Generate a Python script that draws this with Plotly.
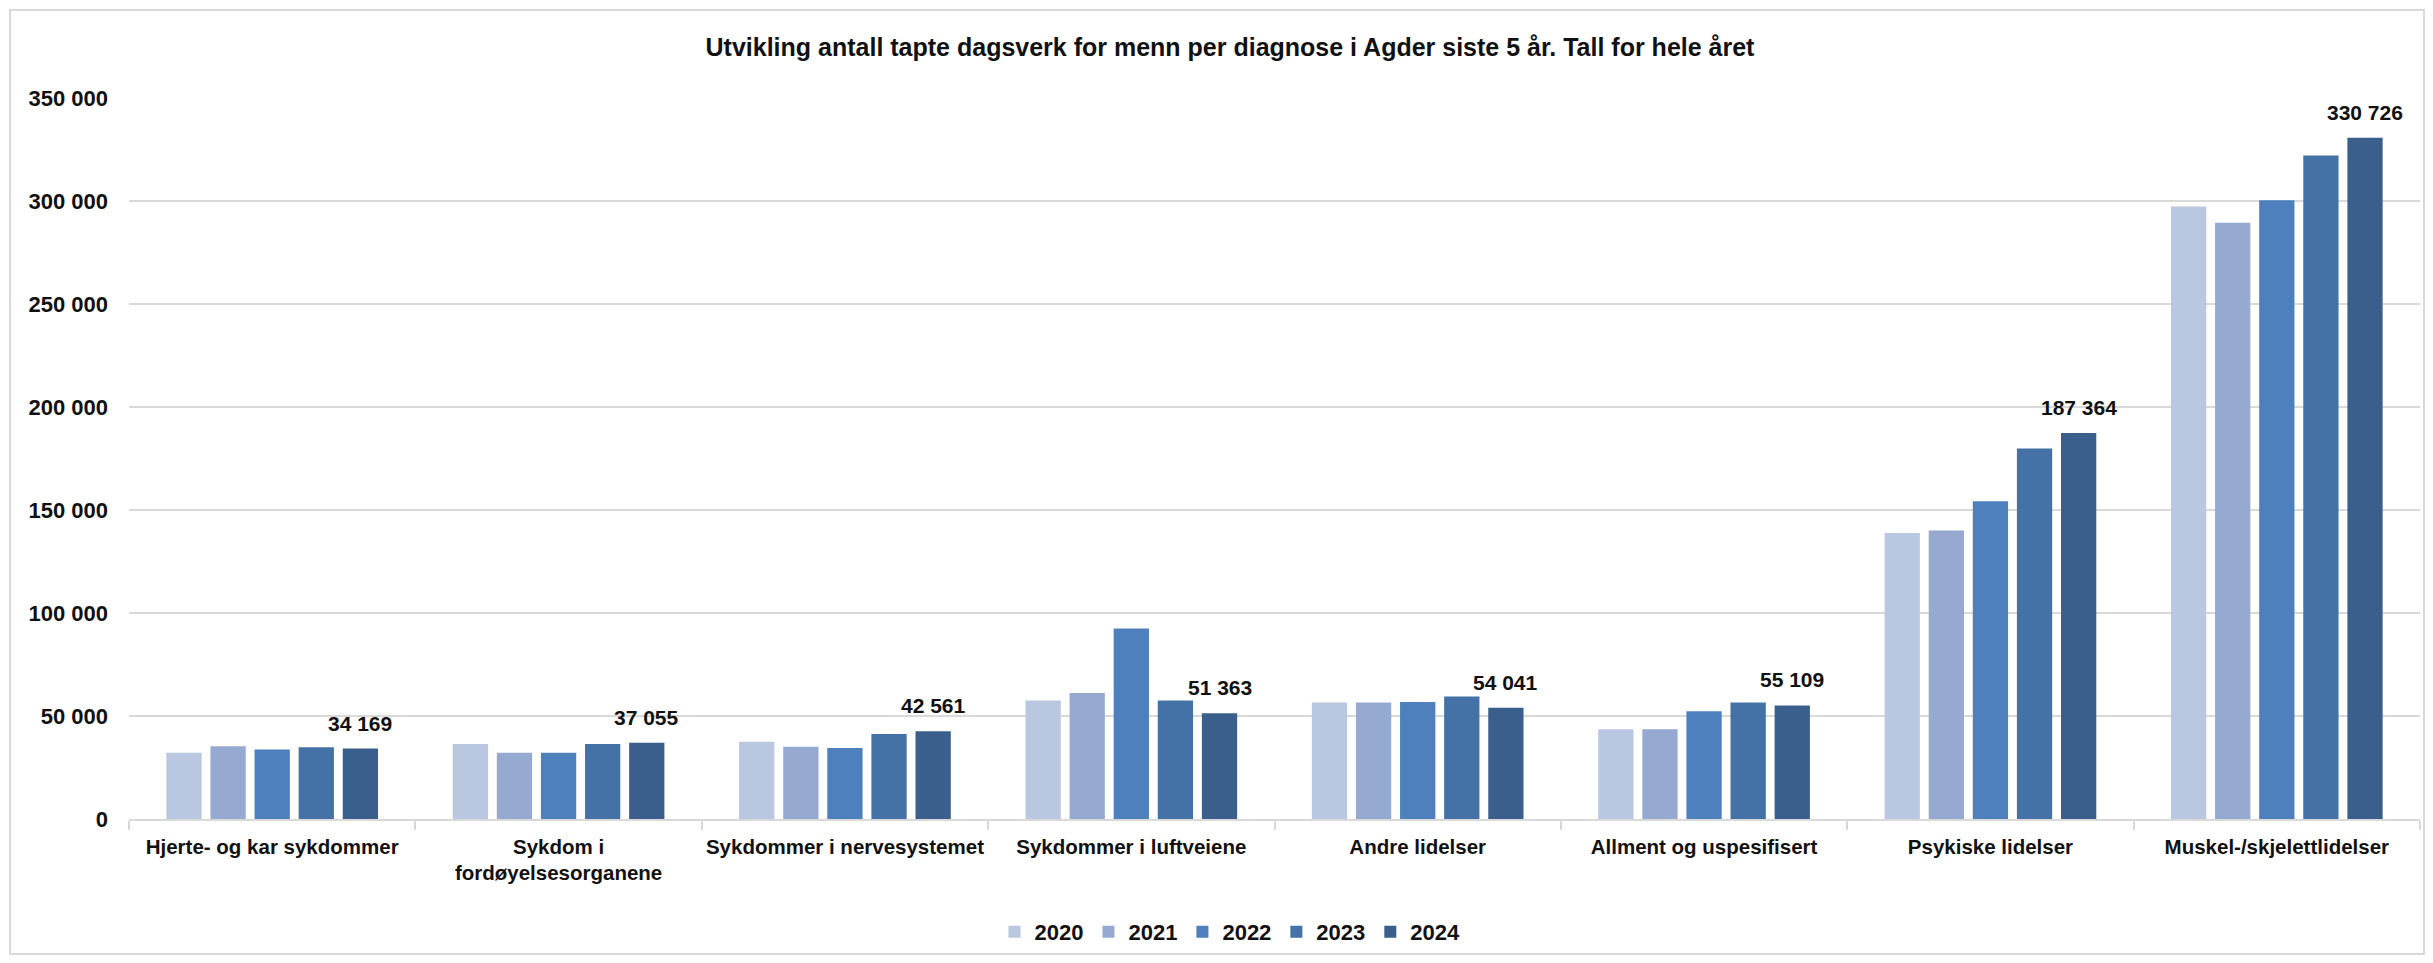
import plotly.graph_objects as go

categories = [
    "Hjerte- og kar sykdommer",
    "Sykdom i<br>fordøyelsesorganene",
    "Sykdommer i nervesystemet",
    "Sykdommer i luftveiene",
    "Andre lidelser",
    "Allment og uspesifisert",
    "Psykiske lidelser",
    "Muskel-/skjelettlidelser",
]
years = ["2020", "2021", "2022", "2023", "2024"]
v2020 = [32200, 36400, 37500, 57500, 56500, 43600, 138800, 297300]
v2021 = [35300, 32200, 35100, 61200, 56500, 43600, 140100, 289500]
v2022 = [33700, 32200, 34500, 92500, 56800, 52300, 154200, 300400]
v2023 = [34800, 36400, 41300, 57500, 59500, 56600, 179900, 322100]
v2024 = [34169, 37055, 42561, 51363, 54041, 55109, 187364, 330726]
series = [v2020, v2021, v2022, v2023, v2024]
colors = ["#BAC7E0", "#95A9D1", "#4E80BD", "#4472A6", "#3A5F8C"]
y_ticks = [0, 50000, 100000, 150000, 200000, 250000, 300000, 350000]

FONT = "Liberation Sans"

# page has an 8px body margin; figure coordinates = page coordinates - 8
W, H = 2417, 947
ml, mr, mt, mb = 121, 5, 90, 136
PW, PH = W - ml - mr, H - mt - mb
BARGAP, BARGROUPGAP = 0.23, 0.2

def px_x(x):
    return (x - ml) / PW

def px_y(y):
    return (H - mb - y) / PH

fig = go.Figure()
for yr, vals, col in zip(years, series, colors):
    fig.add_trace(go.Bar(
        name=yr,
        x=categories,
        y=vals,
        marker=dict(color=col, line=dict(width=0)),
    ))

# data labels for the last series, placed over its bar in each group
cat_px = PW / len(categories)
slot_px = cat_px * (1 - BARGAP) / len(years)
last_shift = slot_px * (len(years) - 1 - (len(years) - 1) / 2)
for cat, val in zip(categories, v2024):
    fig.add_annotation(
        x=cat, y=val, xref="x", yref="y",
        text=f"{val:,}".replace(",", " "),
        showarrow=False,
        xanchor="center", yanchor="bottom",
        xshift=last_shift, yshift=12,
        font=dict(family=FONT, size=21, color="#111111", weight="bold"),
    )

fig.update_layout(
    width=W, height=H,
    margin=dict(l=ml, r=mr, t=mt, b=mb, autoexpand=False),
    paper_bgcolor="white",
    plot_bgcolor="white",
    separators=", ",
    barmode="group",
    bargap=BARGAP,
    bargroupgap=BARGROUPGAP,
    font=dict(family=FONT, size=20, color="#111111", weight="bold"),
    title=dict(
        text="Utvikling antall tapte dagsverk for menn per diagnose i Agder siste 5 år. Tall for hele året",
        x=1222 / W, xanchor="center", xref="container",
        y=1 - 39 / H, yanchor="middle", yref="container",
        font=dict(family=FONT, size=25, color="#111111", weight="bold"),
    ),
    legend=dict(
        orientation="h",
        x=px_x(1222), xanchor="center",
        y=px_y(924), yanchor="middle",
        font=dict(family=FONT, size=22, color="#111111", weight="bold"),
        itemwidth=30,
        traceorder="normal",
    ),
    showlegend=True,
)
fig.update_yaxes(
    range=[0, 350000],
    tickvals=y_ticks,
    tickformat=",d",
    showgrid=True,
    gridcolor="#D9D9D9",
    gridwidth=2,
    zeroline=False,
    showline=False,
    ticks="",
    ticklabelstandoff=20,
    tickfont=dict(family=FONT, size=22, color="#111111", weight="bold"),
)
fig.update_xaxes(
    showline=True,
    linecolor="#D9D9D9",
    linewidth=2,
    ticks="outside",
    tickson="boundaries",
    ticklen=9,
    tickwidth=2,
    tickcolor="#D9D9D9",
    showgrid=False,
    tickangle=0,
    ticklabelstandoff=8,
    tickfont=dict(family=FONT, size=20.5, color="#111111", weight="bold"),
)
# outer chart border
fig.add_shape(
    type="rect", xref="paper", yref="paper",
    x0=px_x(2), x1=px_x(2416),
    y0=px_y(946), y1=px_y(2),
    line=dict(color="#D9D9D9", width=2), fillcolor="rgba(0,0,0,0)",
    layer="below",
)

fig.write_html("out.html")
